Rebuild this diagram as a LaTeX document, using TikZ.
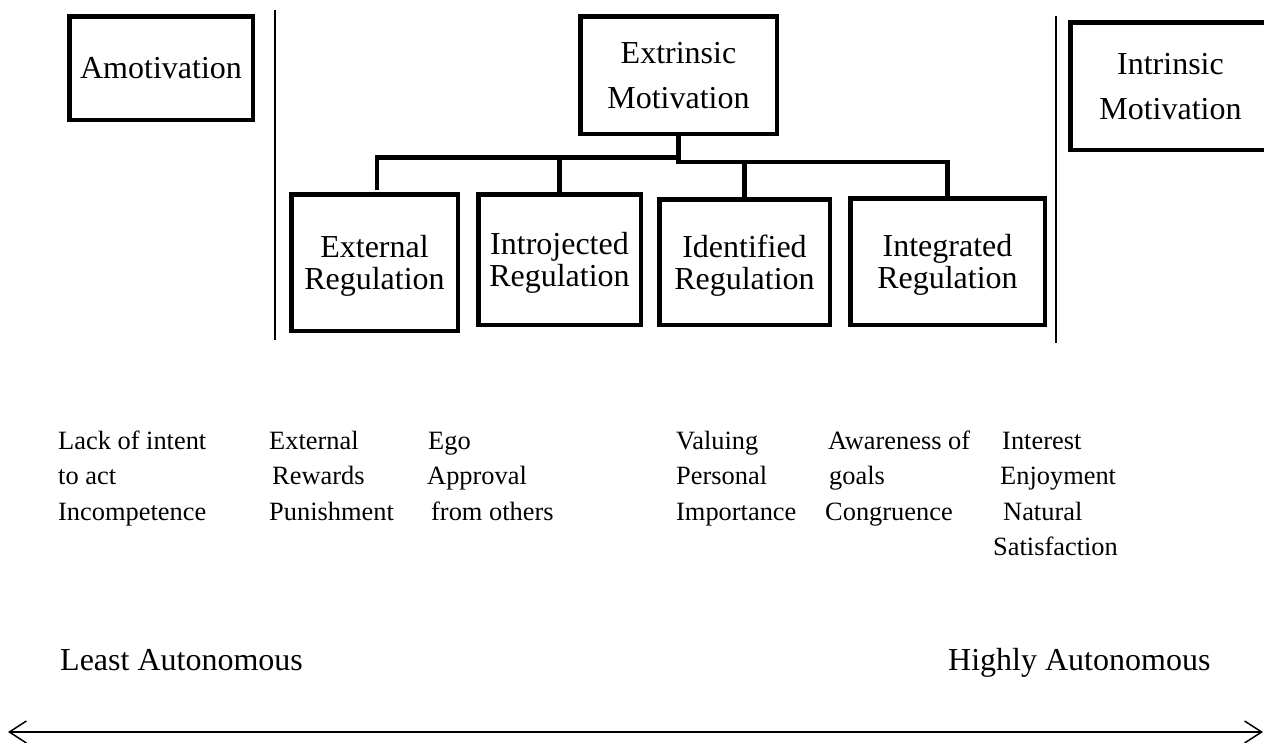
\documentclass[tikz,border=0pt]{standalone}
\usepackage{fontspec}
\setmainfont{Liberation Serif}
\usetikzlibrary{arrows.meta}
\newcommand{\colstack}[1]{\begin{tabular}[t]{@{}l@{}}#1\end{tabular}}
\tikzset{
  box/.style={draw, line width=4.5pt, inner sep=0pt, align=center, text depth=0pt},
  boxfont/.style={font=\fontsize{32}{32}\selectfont},
  tallfont/.style={font=\fontsize{32}{45}\selectfont},
  conn/.style={line width=4.5pt},
  sep/.style={line width=1.5pt},
  desc/.style={anchor=base west, inner sep=0pt, font=\fontsize{26.4}{35.5}\selectfont},
  pole/.style={anchor=base west, inner sep=0pt, font=\fontsize{32}{32}\selectfont},
}
\begin{document}
\begin{tikzpicture}[x=1pt,y=-1pt]
\path[use as bounding box] (0,0) rectangle (1264,742);
\clip (0,0) rectangle (1264,742);
% top boxes
\node[box, boxfont, minimum width=183.5pt, minimum height=103.5pt] (amot) at (161,68) {Amotivation};
\node[box, tallfont, minimum width=196.5pt, minimum height=117.5pt] (extr) at (678.5,75) {Extrinsic\\Motivation};
\node[box, tallfont, minimum width=200.5pt, minimum height=127.5pt] (intr) at (1170.5,86) {Intrinsic\\Motivation};
% regulation boxes
\node[box, boxfont, minimum width=166.5pt, minimum height=136.5pt] (ext) at (374.5,262.5) {External\\Regulation};
\node[box, boxfont, minimum width=162.5pt, minimum height=130.5pt] (intro) at (559.5,259.5) {Introjected\\Regulation};
\node[box, boxfont, minimum width=170.5pt, minimum height=125.5pt] (iden) at (744.5,262) {Identified\\Regulation};
\node[box, boxfont, minimum width=194.5pt, minimum height=126.5pt] (integ) at (947.5,261.5) {Integrated\\Regulation};
% tree connectors
\coordinate (jl) at (679,157.5);
\coordinate (jr) at (679,162);
\coordinate (extstem) at (377,190);
\draw[conn] (extstem) |- (jl);
\draw[conn] (intro.north) -- (intro.north |- jl);
\draw[conn] (extr.south) -- (extr.south |- 0,164);
\draw[conn] (jr) -| (integ.north);
\draw[conn] (iden.north) -- (iden.north |- jr);
% separators
\coordinate (s1a) at (275,10);
\coordinate (s1b) at (275,340);
\coordinate (s2a) at (1056,16);
\coordinate (s2b) at (1056,343);
\draw[sep] (s1a) -- (s1b);
\draw[sep] (s2a) -- (s2b);
% descriptions
\node[desc] (d1) at (58,449) {\colstack{Lack of intent\\to act\\Incompetence}};
\node[desc] (d2) at (269,449) {\colstack{External\\\hspace*{3pt}Rewards\\Punishment}};
\node[desc] (d3) at (427,449) {\colstack{\hspace*{1pt}Ego\\Approval\\\hspace*{4pt}from others}};
\node[desc] (d4) at (676,449) {\colstack{Valuing\\Personal\\Importance}};
\node[desc] (d5) at (825,449) {\colstack{\hspace*{3pt}Awareness of\\\hspace*{4pt}goals\\Congruence}};
\node[desc] (d6) at (993,449) {\colstack{\hspace*{9pt}Interest\\\hspace*{7pt}Enjoyment\\\hspace*{10pt}Natural\\Satisfaction}};
% poles
\node[pole] (least) at (60,670) {Least Autonomous};
\node[pole] (high) at (948,670) {Highly Autonomous};
% axis arrow
\coordinate (aL) at (8,732);
\coordinate (aR) at (1263,732);
\draw[line width=1.5pt, {Straight Barb[length=17pt,width=22pt]}-{Straight Barb[length=17pt,width=22pt]}] (aL) -- (aR);
\end{tikzpicture}
\end{document}
